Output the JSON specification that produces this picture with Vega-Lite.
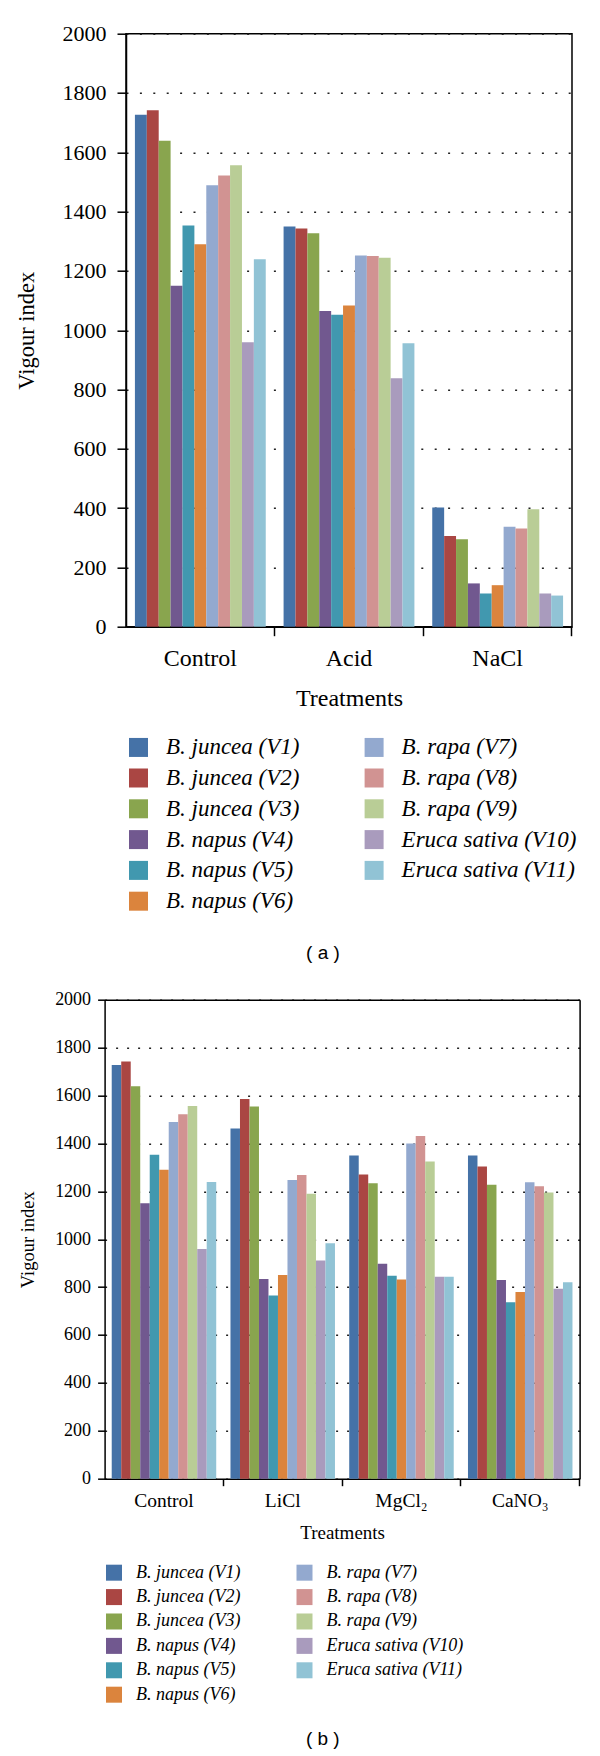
{
  "$schema": "https://vega.github.io/schema/vega-lite/v6.json",
  "background": "white",
  "autosize": {"type": "pad"},
  "padding": {"left": 14, "top": 21.7, "right": 5, "bottom": 5},
  "spacing": 27,
  "columns": 1,
  "align": "none",
  "config": {
    "font": "Liberation Serif",
    "view": {"stroke": "black", "strokeWidth": 1.5},
    "axis": {
      "domainColor": "black", "domainWidth": 1.5,
      "tickColor": "black", "tickWidth": 1.5,
      "labelColor": "black", "titleColor": "black",
      "labelFont": "Liberation Serif", "titleFont": "Liberation Serif",
      "titleFontWeight": "normal", "labelFlush": false, "labelOverlap": false
    },
    "legend": {
      "labelFont": "Liberation Serif", "labelFontStyle": "italic", "labelColor": "black", "labelLimit": 400,
      "symbolType": "square", "symbolStrokeWidth": 0, "padding": 0
    }
  },
  "datasets": {
    "panelA": [
      {"treatment": "Control", "variety": "B. juncea (V1)", "vigour": 1727},
      {"treatment": "Control", "variety": "B. juncea (V2)", "vigour": 1742},
      {"treatment": "Control", "variety": "B. juncea (V3)", "vigour": 1639},
      {"treatment": "Control", "variety": "B. napus (V4)", "vigour": 1150},
      {"treatment": "Control", "variety": "B. napus (V5)", "vigour": 1353},
      {"treatment": "Control", "variety": "B. napus (V6)", "vigour": 1290},
      {"treatment": "Control", "variety": "B. rapa (V7)", "vigour": 1489},
      {"treatment": "Control", "variety": "B. rapa (V8)", "vigour": 1522},
      {"treatment": "Control", "variety": "B. rapa (V9)", "vigour": 1556},
      {"treatment": "Control", "variety": "Eruca sativa (V10)", "vigour": 959},
      {"treatment": "Control", "variety": "Eruca sativa (V11)", "vigour": 1239},
      {"treatment": "Acid", "variety": "B. juncea (V1)", "vigour": 1350},
      {"treatment": "Acid", "variety": "B. juncea (V2)", "vigour": 1343},
      {"treatment": "Acid", "variety": "B. juncea (V3)", "vigour": 1327},
      {"treatment": "Acid", "variety": "B. napus (V4)", "vigour": 1065},
      {"treatment": "Acid", "variety": "B. napus (V5)", "vigour": 1052},
      {"treatment": "Acid", "variety": "B. napus (V6)", "vigour": 1083},
      {"treatment": "Acid", "variety": "B. rapa (V7)", "vigour": 1252},
      {"treatment": "Acid", "variety": "B. rapa (V8)", "vigour": 1250},
      {"treatment": "Acid", "variety": "B. rapa (V9)", "vigour": 1244},
      {"treatment": "Acid", "variety": "Eruca sativa (V10)", "vigour": 838},
      {"treatment": "Acid", "variety": "Eruca sativa (V11)", "vigour": 956},
      {"treatment": "NaCl", "variety": "B. juncea (V1)", "vigour": 402},
      {"treatment": "NaCl", "variety": "B. juncea (V2)", "vigour": 306},
      {"treatment": "NaCl", "variety": "B. juncea (V3)", "vigour": 295},
      {"treatment": "NaCl", "variety": "B. napus (V4)", "vigour": 146},
      {"treatment": "NaCl", "variety": "B. napus (V5)", "vigour": 112},
      {"treatment": "NaCl", "variety": "B. napus (V6)", "vigour": 140},
      {"treatment": "NaCl", "variety": "B. rapa (V7)", "vigour": 337},
      {"treatment": "NaCl", "variety": "B. rapa (V8)", "vigour": 331},
      {"treatment": "NaCl", "variety": "B. rapa (V9)", "vigour": 396},
      {"treatment": "NaCl", "variety": "Eruca sativa (V10)", "vigour": 112},
      {"treatment": "NaCl", "variety": "Eruca sativa (V11)", "vigour": 105}
    ],
    "panelB": [
      {"treatment": "Control", "variety": "B. juncea (V1)", "vigour": 1727},
      {"treatment": "Control", "variety": "B. juncea (V2)", "vigour": 1742},
      {"treatment": "Control", "variety": "B. juncea (V3)", "vigour": 1639},
      {"treatment": "Control", "variety": "B. napus (V4)", "vigour": 1150},
      {"treatment": "Control", "variety": "B. napus (V5)", "vigour": 1353},
      {"treatment": "Control", "variety": "B. napus (V6)", "vigour": 1290},
      {"treatment": "Control", "variety": "B. rapa (V7)", "vigour": 1489},
      {"treatment": "Control", "variety": "B. rapa (V8)", "vigour": 1522},
      {"treatment": "Control", "variety": "B. rapa (V9)", "vigour": 1556},
      {"treatment": "Control", "variety": "Eruca sativa (V10)", "vigour": 959},
      {"treatment": "Control", "variety": "Eruca sativa (V11)", "vigour": 1239},
      {"treatment": "LiCl", "variety": "B. juncea (V1)", "vigour": 1462},
      {"treatment": "LiCl", "variety": "B. juncea (V2)", "vigour": 1585},
      {"treatment": "LiCl", "variety": "B. juncea (V3)", "vigour": 1554},
      {"treatment": "LiCl", "variety": "B. napus (V4)", "vigour": 834},
      {"treatment": "LiCl", "variety": "B. napus (V5)", "vigour": 765},
      {"treatment": "LiCl", "variety": "B. napus (V6)", "vigour": 851},
      {"treatment": "LiCl", "variety": "B. rapa (V7)", "vigour": 1247},
      {"treatment": "LiCl", "variety": "B. rapa (V8)", "vigour": 1268},
      {"treatment": "LiCl", "variety": "B. rapa (V9)", "vigour": 1190},
      {"treatment": "LiCl", "variety": "Eruca sativa (V10)", "vigour": 911},
      {"treatment": "LiCl", "variety": "Eruca sativa (V11)", "vigour": 983},
      {"treatment": "MgCl₂", "variety": "B. juncea (V1)", "vigour": 1349},
      {"treatment": "MgCl₂", "variety": "B. juncea (V2)", "vigour": 1270},
      {"treatment": "MgCl₂", "variety": "B. juncea (V3)", "vigour": 1234},
      {"treatment": "MgCl₂", "variety": "B. napus (V4)", "vigour": 897},
      {"treatment": "MgCl₂", "variety": "B. napus (V5)", "vigour": 847},
      {"treatment": "MgCl₂", "variety": "B. napus (V6)", "vigour": 832},
      {"treatment": "MgCl₂", "variety": "B. rapa (V7)", "vigour": 1400},
      {"treatment": "MgCl₂", "variety": "B. rapa (V8)", "vigour": 1431},
      {"treatment": "MgCl₂", "variety": "B. rapa (V9)", "vigour": 1324},
      {"treatment": "MgCl₂", "variety": "Eruca sativa (V10)", "vigour": 843},
      {"treatment": "MgCl₂", "variety": "Eruca sativa (V11)", "vigour": 843},
      {"treatment": "CaNO₃", "variety": "B. juncea (V1)", "vigour": 1349},
      {"treatment": "CaNO₃", "variety": "B. juncea (V2)", "vigour": 1304},
      {"treatment": "CaNO₃", "variety": "B. juncea (V3)", "vigour": 1227},
      {"treatment": "CaNO₃", "variety": "B. napus (V4)", "vigour": 830},
      {"treatment": "CaNO₃", "variety": "B. napus (V5)", "vigour": 737},
      {"treatment": "CaNO₃", "variety": "B. napus (V6)", "vigour": 779},
      {"treatment": "CaNO₃", "variety": "B. rapa (V7)", "vigour": 1238},
      {"treatment": "CaNO₃", "variety": "B. rapa (V8)", "vigour": 1221},
      {"treatment": "CaNO₃", "variety": "B. rapa (V9)", "vigour": 1195},
      {"treatment": "CaNO₃", "variety": "Eruca sativa (V10)", "vigour": 793},
      {"treatment": "CaNO₃", "variety": "Eruca sativa (V11)", "vigour": 820}
    ]
  },
  "concat": [
    {
      "width": 446,
      "height": 593,
      "data": {"name": "panelA"},
      "mark": {"type": "bar"},
      "title": {"text": "( a )", "orient": "bottom", "font": "Liberation Sans", "fontSize": 19, "fontWeight": "normal", "color": "black", "anchor": "middle", "frame": "group", "dx": -26, "offset": 30},
      "encoding": {
        "x": {
          "field": "treatment", "type": "nominal", "sort": ["Control", "Acid", "NaCl"], "title": "Treatments",
          "scale": {"paddingInner": 0.12, "paddingOuter": 0.06},
          "axis": {"labelAngle": 0, "bandPosition": 1.068, "tickSize": 9, "labelFontSize": 24, "titleFontSize": 24, "labelPadding": 11, "titlePadding": 16}
        },
        "xOffset": {
          "field": "variety", "type": "nominal",
          "sort": ["B. juncea (V1)", "B. juncea (V2)", "B. juncea (V3)", "B. napus (V4)", "B. napus (V5)", "B. napus (V6)", "B. rapa (V7)", "B. rapa (V8)", "B. rapa (V9)", "Eruca sativa (V10)", "Eruca sativa (V11)"]
        },
        "y": {
          "field": "vigour", "type": "quantitative", "title": "Vigour index",
          "scale": {"domain": [0, 2000], "nice": false},
          "axis": {"values": [0, 200, 400, 600, 800, 1000, 1200, 1400, 1600, 1800, 2000], "format": "d", "tickSize": 9, "labelPadding": 11, "labelFontSize": 22, "titleFontSize": 22.5, "titlePadding": 23.9, "gridDash": [2, 11.4], "gridColor": "#222222", "gridWidth": 1.5, "gridOpacity": 1}
        },
        "color": {
          "field": "variety", "type": "nominal",
          "scale": {
            "domain": ["B. juncea (V1)", "B. juncea (V2)", "B. juncea (V3)", "B. napus (V4)", "B. napus (V5)", "B. napus (V6)", "B. rapa (V7)", "B. rapa (V8)", "B. rapa (V9)", "Eruca sativa (V10)", "Eruca sativa (V11)"],
            "range": ["#4572A7", "#AA4643", "#89A54E", "#71588F", "#4198AF", "#DB843D", "#93A9CF", "#D19392", "#B9CD96", "#A99BBD", "#91C3D5"]
          },
          "legend": {"title": null, "orient": "none", "legendX": 1, "legendY": 702, "columns": 2, "symbolSize": 361, "labelFontSize": 23, "labelOffset": 16, "columnPadding": 62.6, "rowPadding": 6.8}
        }
      }
    },
    {
      "width": 453.6,
      "height": 479,
      "data": {"name": "panelB"},
      "view": {"stroke": null},
      "title": {"text": "( b )", "orient": "bottom", "font": "Liberation Sans", "fontSize": 19, "fontWeight": "normal", "color": "black", "anchor": "middle", "frame": "group", "dx": -30, "offset": 26},
      "resolve": {"axis": {"x": "independent", "y": "independent"}},
      "layer": [
        {
          "mark": {"type": "bar"},
          "encoding": {
            "x": {
              "field": "treatment", "type": "nominal", "sort": ["Control", "LiCl", "MgCl₂", "CaNO₃"], "title": "Treatments",
              "scale": {"paddingInner": 0.12, "paddingOuter": 0.06, "range": [-21.4, 453.6]},
              "axis": {"orient": "bottom", "labelAngle": 0, "bandPosition": 1.068, "tickSize": 7, "labelFontSize": 19.5, "titleFontSize": 19, "labelPadding": 5.5, "titlePadding": 14}
            },
            "xOffset": {
              "field": "variety", "type": "nominal",
              "sort": ["B. juncea (V1)", "B. juncea (V2)", "B. juncea (V3)", "B. napus (V4)", "B. napus (V5)", "B. napus (V6)", "B. rapa (V7)", "B. rapa (V8)", "B. rapa (V9)", "Eruca sativa (V10)", "Eruca sativa (V11)"]
            },
            "y": {
              "field": "vigour", "type": "quantitative", "title": "Vigour index",
              "scale": {"domain": [0, 2000], "nice": false},
              "axis": {"orient": "left", "offset": 21.4, "values": [0, 200, 400, 600, 800, 1000, 1200, 1400, 1600, 1800, 2000], "format": "d", "tickSize": 7, "labelPadding": 7, "labelFontSize": 18, "titleFontSize": 18.5, "titlePadding": 17, "gridDash": [2, 9], "gridColor": "#222222", "gridWidth": 1.5, "gridOpacity": 1}
            },
            "color": {
              "field": "variety", "type": "nominal",
              "scale": {
                "domain": ["B. juncea (V1)", "B. juncea (V2)", "B. juncea (V3)", "B. napus (V4)", "B. napus (V5)", "B. napus (V6)", "B. rapa (V7)", "B. rapa (V8)", "B. rapa (V9)", "Eruca sativa (V10)", "Eruca sativa (V11)"],
                "range": ["#4572A7", "#AA4643", "#89A54E", "#71588F", "#4198AF", "#DB843D", "#93A9CF", "#D19392", "#B9CD96", "#A99BBD", "#91C3D5"]
              },
              "legend": {"title": null, "orient": "none", "legendX": -21, "legendY": 564, "columns": 2, "symbolSize": 256, "labelFontSize": 18, "labelOffset": 13, "columnPadding": 54.5, "rowPadding": 6.4}
            }
          }
        },
        {
          "mark": {"type": "bar", "opacity": 0},
          "encoding": {
            "x": {
              "field": "treatment", "type": "nominal", "sort": ["Control", "LiCl", "MgCl₂", "CaNO₃"],
              "axis": {"orient": "top", "labels": false, "ticks": false, "title": null, "grid": false}
            },
            "xOffset": {
              "field": "variety", "type": "nominal",
              "sort": ["B. juncea (V1)", "B. juncea (V2)", "B. juncea (V3)", "B. napus (V4)", "B. napus (V5)", "B. napus (V6)", "B. rapa (V7)", "B. rapa (V8)", "B. rapa (V9)", "Eruca sativa (V10)", "Eruca sativa (V11)"]
            },
            "y": {
              "field": "vigour", "type": "quantitative",
              "axis": {"orient": "right", "labels": false, "ticks": false, "title": null, "grid": false}
            }
          }
        }
      ]
    }
  ],
  "resolve": {"scale": {"color": "independent", "xOffset": "independent"}, "legend": {"color": "independent"}}
}
